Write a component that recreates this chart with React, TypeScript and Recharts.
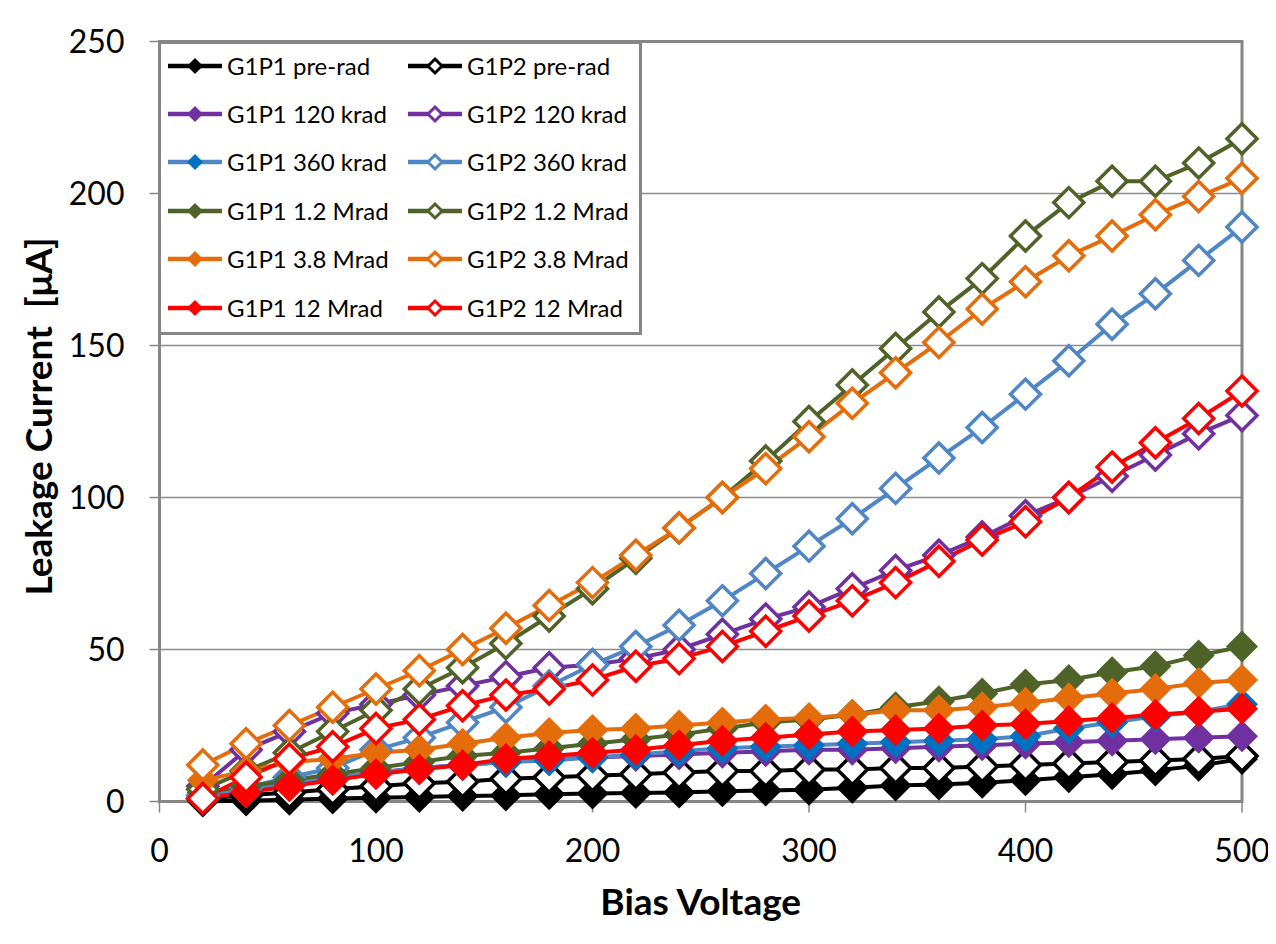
import React from 'react';
import { LineChart, Line, XAxis, YAxis, CartesianGrid, Legend, ReferenceArea } from 'recharts';

// bias voltage (V)
const voltages = [20, 40, 60, 80, 100, 120, 140, 160, 180, 200, 220, 240, 260, 280, 300, 320, 340, 360, 380, 400, 420, 440, 460, 480, 500];

// leakage current (uA)
const g1p1PreRad = [0, 0.3, 0.6, 1, 1.2, 1.5, 1.8, 2, 2.4, 2.6, 2.8, 3, 3.4, 3.6, 3.9, 4.5, 5.3, 5.6, 6.2, 7, 8, 9, 10.2, 11.8, 14];
const g1p2PreRad = [1, 2, 3, 4, 5, 6, 6.5, 7.5, 8, 8.5, 9, 9.5, 10, 10, 10.5, 10.5, 11, 11, 11.5, 12, 12.5, 13, 13.5, 14, 15];
const g1p1K120 = [2, 4, 6, 8, 9.5, 11, 12, 13, 14, 14.5, 15, 15.5, 16, 16.5, 17, 17, 17.5, 18, 18.5, 19, 19.5, 20, 20.5, 21, 21.5];
const g1p2K120 = [5, 17, 23, 29, 32, 35, 38, 41, 44, 45, 47, 50, 55, 60, 64, 70, 76, 81, 87, 94, 100, 107, 114, 121, 127];
const g1p1K360 = [2, 4, 6, 8, 9.5, 11, 12, 13, 13.5, 14.5, 15.5, 16.5, 17.5, 18, 18.5, 19, 19.5, 20, 20.5, 21.5, 24, 26, 28, 29.5, 32];
const g1p2K360 = [2, 4.5, 8, 11, 17, 21, 26, 31, 38, 45, 51, 58, 66, 75, 84, 93, 103, 113, 123, 134, 145, 157, 167, 178, 189];
const g1p1M12 = [3, 5, 7, 9, 11, 13, 15, 16, 17.5, 19, 20.5, 22, 24, 26, 27, 28.5, 31, 33, 35.5, 38.5, 40, 42.5, 44.5, 48, 51];
const g1p2M12 = [4, 10, 16, 23, 30, 37, 44, 52, 61, 70, 80, 90, 100, 112, 125, 137, 149, 161, 172, 186, 197, 204, 204, 210, 218];
const g1p1M38 = [7, 10, 13, 14, 16, 17, 19, 21, 22.5, 23.5, 24, 25, 26, 27, 27.5, 28.5, 30, 30, 31, 32.5, 34, 35.5, 37, 39, 40];
const g1p2M38 = [12, 19, 25, 31, 37, 43, 50, 57, 64.5, 72, 81, 90, 100, 109.5, 120, 131, 141, 151, 162, 171, 179.5, 186, 193, 199, 205];
const g1p1M120 = [1, 3, 5, 7, 9, 10.5, 12, 14, 15, 16, 17, 18.5, 20, 21, 22, 23, 23.5, 24, 25, 25.5, 26.5, 27.5, 28.5, 29.5, 30.5];
const g1p2M120 = [1, 8, 14, 18, 24, 27, 31.5, 35, 37, 40, 44.5, 47, 51, 56, 61, 66, 72, 79, 86, 92, 100, 110, 118, 126, 135];

const xTicks = [0, 100, 200, 300, 400, 500];
const yTicks = [0, 50, 100, 150, 200, 250];

const FONT = 'Lato, "Open Sans", sans-serif';
const GRAY = '#868686';

type SeriesDef = { key: string; name: string; values: number[]; line: string; marker: string; filled: boolean };

const series: SeriesDef[] = [
  { key: 'p1pre', name: 'G1P1 pre-rad', values: g1p1PreRad, line: '#000000', marker: '#000000', filled: true },
  { key: 'p2pre', name: 'G1P2 pre-rad', values: g1p2PreRad, line: '#000000', marker: '#000000', filled: false },
  { key: 'p1k120', name: 'G1P1 120 krad', values: g1p1K120, line: '#7030A0', marker: '#7030A0', filled: true },
  { key: 'p2k120', name: 'G1P2 120 krad', values: g1p2K120, line: '#7030A0', marker: '#7030A0', filled: false },
  { key: 'p1k360', name: 'G1P1 360 krad', values: g1p1K360, line: '#4F86C6', marker: '#0070C0', filled: true },
  { key: 'p2k360', name: 'G1P2 360 krad', values: g1p2K360, line: '#4F86C6', marker: '#4F86C6', filled: false },
  { key: 'p1m12', name: 'G1P1 1.2 Mrad', values: g1p1M12, line: '#4F6228', marker: '#4F6228', filled: true },
  { key: 'p2m12', name: 'G1P2 1.2 Mrad', values: g1p2M12, line: '#4F6228', marker: '#4F6228', filled: false },
  { key: 'p1m38', name: 'G1P1 3.8 Mrad', values: g1p1M38, line: '#E46C0A', marker: '#E46C0A', filled: true },
  { key: 'p2m38', name: 'G1P2 3.8 Mrad', values: g1p2M38, line: '#E46C0A', marker: '#E46C0A', filled: false },
  { key: 'p1m120', name: 'G1P1 12 Mrad', values: g1p1M120, line: '#FF0000', marker: '#FF0000', filled: true },
  { key: 'p2m120', name: 'G1P2 12 Mrad', values: g1p2M120, line: '#FF0000', marker: '#FF0000', filled: false },
];

const data = voltages.map((v, i) => {
  const row: Record<string, number> = { v };
  series.forEach((s) => {
    row[s.key] = s.values[i];
  });
  return row;
});

const diamond = (cx: number, cy: number, r: number) =>
  `M${cx},${cy - r}L${cx + r},${cy}L${cx},${cy + r}L${cx - r},${cy}Z`;

function makeDot(s: SeriesDef) {
  return (props: any) => {
    const { cx, cy, index } = props;
    if (cx == null || cy == null) return <g key={index} />;
    return s.filled ? (
      <path key={index} d={diamond(cx, cy, 16)} fill={s.marker} />
    ) : (
      <path key={index} d={diamond(cx, cy, 15)} fill="#ffffff" stroke={s.line} strokeWidth={3.5} />
    );
  };
}

function LegendBox() {
  return (
    <div
      style={{
        position: 'relative',
        width: 484,
        height: 294,
        boxSizing: 'border-box',
        border: `3px solid ${GRAY}`,
        background: '#ffffff',
        fontFamily: FONT,
        fontSize: 24,
        color: '#000000',
      }}
    >
      {series.map((s, i) => {
        const col = i % 2;
        const row = Math.floor(i / 2);
        return (
          <div
            key={s.key}
            style={{
              position: 'absolute',
              left: 7 + col * 240,
              top: 22 + row * 48.4 - 16,
              height: 32,
              display: 'flex',
              alignItems: 'center',
              whiteSpace: 'nowrap',
            }}
          >
            <svg width={54} height={32} style={{ display: 'block' }}>
              <line x1={0} x2={54} y1={16} y2={16} stroke={s.line} strokeWidth={4.5} />
              {s.filled ? (
                <path d={diamond(27, 16, 8)} fill={s.marker} />
              ) : (
                <path d={diamond(27, 16, 7)} fill="#ffffff" stroke={s.line} strokeWidth={3} />
              )}
            </svg>
            <span style={{ marginLeft: 5, lineHeight: '32px' }}>{s.name}</span>
          </div>
        );
      })}
    </div>
  );
}

const xTitle = ({ viewBox }: any) => (
  <text
    x={viewBox.x + viewBox.width / 2}
    y={viewBox.y + 113.5}
    textAnchor="middle"
    style={{ fontFamily: FONT, fontSize: 37, fontWeight: 700, fill: '#000000' }}
  >
    Bias Voltage
  </text>
);

const yTitle = ({ viewBox }: any) => {
  const cx = viewBox.x + 44;
  const cy = viewBox.y + viewBox.height / 2 - 5;
  return (
    <text
      x={cx}
      y={cy}
      transform={`rotate(-90 ${cx} ${cy})`}
      textAnchor="middle"
      style={{ fontFamily: FONT, fontSize: 37, fontWeight: 700, fill: '#000000', whiteSpace: 'pre' }}
    >
      {'Leakage Current  [\u03BCA]'}
    </text>
  );
};

export default function App() {
  return (
    <div style={{ width: 1268, height: 928, background: '#ffffff' }}>
      <LineChart width={1268} height={928} data={data} margin={{ top: 33.5, right: 34, left: 0, bottom: 0 }}>
        <CartesianGrid vertical={false} stroke="#8c8c8c" strokeWidth={1.5} />
        <XAxis
          dataKey="v"
          type="number"
          domain={[0, 500]}
          ticks={xTicks}
          height={134.5}
          axisLine={false}
          tickSize={11}
          tickMargin={27}
          tickLine={{ stroke: GRAY, strokeWidth: 1.5 }}
          tick={{ fontFamily: FONT, fontSize: 32, fill: '#000000' }}
          label={{ content: xTitle }}
        />
        <YAxis
          type="number"
          domain={[0, 250]}
          ticks={yTicks}
          width={151.5}
          axisLine={false}
          tickSize={10}
          tickMargin={25}
          tickLine={{ stroke: GRAY, strokeWidth: 1.5 }}
          tick={{ fontFamily: FONT, fontSize: 32, fill: '#000000' }}
          label={{ content: yTitle }}
        />
        <ReferenceArea x1={0} x2={500} y1={0} y2={250} fill="none" fillOpacity={0} stroke={GRAY} strokeWidth={3} />
        {series.map((s) => (
          <Line
            key={s.key}
            dataKey={s.key}
            name={s.name}
            type="linear"
            stroke={s.line}
            strokeWidth={4}
            dot={makeDot(s)}
            activeDot={false}
            isAnimationActive={false}
          />
        ))}
        <Legend
          layout="horizontal"
          verticalAlign="middle"
          align="center"
          wrapperStyle={{ left: 150, top: 32.5, width: 484, height: 294 }}
          content={() => <LegendBox />}
        />
      </LineChart>
    </div>
  );
}
